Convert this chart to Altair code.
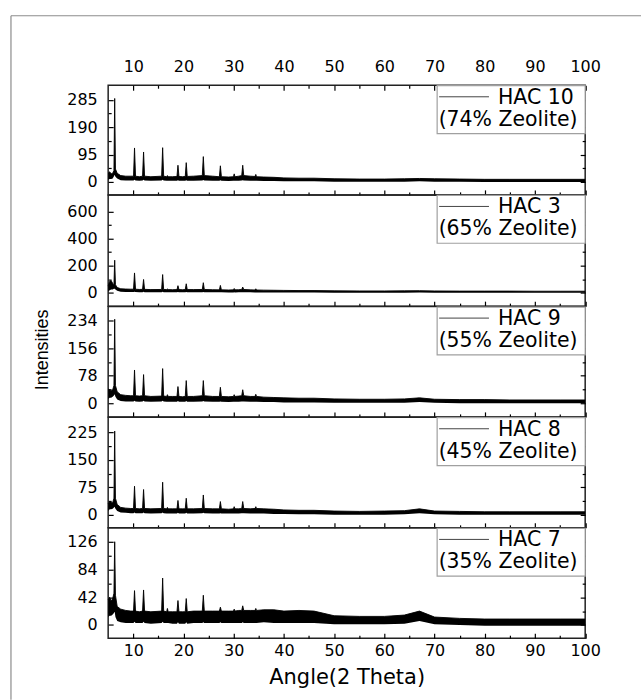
import altair as alt
import pandas as pd

# 2-theta positions (shared by every pattern)
angles = [5.0, 5.3, 5.6, 5.9, 6.15, 6.3, 6.45, 6.8, 7.5, 8.5,
          9.5, 10.05, 10.25, 10.45, 11.2, 11.85, 12.05, 12.25, 13.5, 15.65,
          15.85, 16.05, 16.65, 16.8, 16.95, 17.8, 18.7, 18.9, 19.1, 19.8,
          20.35, 20.55, 20.75, 22.0, 23.75, 23.95, 24.15, 25.8, 27.15, 27.35,
          27.55, 29.0, 29.95, 30.1, 30.25, 31.0, 31.6, 31.8, 32.0, 33.3,
          34.25, 34.4, 34.55, 36.0, 38.0, 40.0, 43.0, 46.0, 50.0, 55.0,
          60.0, 64.0, 67.0, 70.0, 75.0, 80.0, 85.0, 90.0, 95.0, 100.0]

# upper / lower envelope of each noisy pattern
hac10_hi = [30, 35, 28, 30, 40, 290, 45, 30, 22, 20,
            20, 20, 118, 20, 18, 20, 104, 20, 18, 20,
            119, 20, 18, 22, 18, 18, 19, 58, 19, 18,
            19, 67, 19, 20, 22, 88, 22, 20, 18, 56,
            18, 17, 18, 28, 18, 20, 22, 58, 22, 20,
            19, 26, 18, 17, 16, 14, 13, 13, 11, 10,
            10, 11, 12, 11, 10, 9, 9, 9, 9, 9]
hac10_lo = [8, 10, 10, 12, 20, 25, 18, 12, 6, 5,
            5, 5, 8, 5, 4, 5, 8, 5, 4, 5,
            8, 5, 4, 4, 4, 4, 4, 6, 4, 4,
            4, 6, 4, 4, 5, 7, 5, 4, 4, 6,
            4, 3, 4, 4, 4, 4, 5, 6, 5, 4,
            4, 4, 4, 3, 3, 2, 2, 2, 1, 1,
            1, 1, 2, 1, 1, 0, 0, 0, 0, 0]
hac3_hi = [50, 85, 90, 70, 60, 241, 60, 40, 30, 28,
           27, 27, 147, 27, 25, 26, 99, 26, 24, 25,
           135, 25, 24, 28, 24, 23, 24, 53, 24, 23,
           24, 67, 24, 24, 25, 75, 25, 23, 22, 55,
           22, 21, 22, 32, 22, 23, 25, 43, 25, 22,
           21, 30, 21, 20, 19, 18, 17, 17, 15, 14,
           14, 15, 16, 14, 13, 13, 13, 12, 12, 12]
hac3_lo = [10, 20, 25, 25, 30, 30, 25, 15, 8, 6,
           6, 6, 8, 6, 5, 5, 8, 5, 5, 5,
           8, 5, 4, 4, 4, 4, 4, 6, 4, 4,
           4, 6, 4, 4, 5, 6, 5, 4, 4, 5,
           4, 3, 3, 4, 3, 4, 5, 5, 5, 4,
           3, 3, 3, 3, 2, 2, 2, 2, 1, 1,
           1, 1, 2, 1, 0, 0, 0, 0, 0, 0]
hac9_hi = [40, 38, 35, 38, 50, 238, 50, 32, 24, 22,
           21, 21, 94, 21, 20, 21, 81, 21, 19, 20,
           98, 20, 19, 24, 19, 19, 19, 47, 19, 18,
           19, 64, 19, 19, 21, 64, 21, 19, 19, 45,
           19, 18, 19, 24, 19, 20, 21, 38, 21, 19,
           19, 25, 19, 17, 16, 15, 14, 14, 12, 11,
           11, 12, 15, 11, 10, 10, 9, 9, 9, 9]
hac9_lo = [12, 15, 15, 18, 22, 25, 18, 10, 6, 5,
           5, 5, 7, 5, 4, 5, 7, 5, 4, 5,
           7, 5, 4, 4, 4, 4, 4, 6, 4, 4,
           4, 6, 4, 4, 5, 6, 5, 4, 4, 5,
           4, 3, 4, 4, 4, 4, 5, 5, 5, 4,
           4, 4, 4, 3, 3, 2, 2, 2, 1, 1,
           1, 1, 3, 1, 0, 0, 0, 0, 0, 0]
hac8_hi = [30, 36, 34, 33, 45, 229, 45, 28, 20, 18,
           17, 17, 78, 17, 16, 17, 69, 17, 16, 17,
           89, 17, 16, 20, 16, 16, 16, 39, 16, 16,
           16, 45, 16, 16, 17, 54, 17, 16, 16, 36,
           16, 15, 16, 22, 16, 16, 17, 36, 17, 16,
           17, 22, 17, 16, 15, 13, 12, 12, 10, 9,
           10, 11, 16, 10, 9, 8, 8, 8, 8, 8]
hac8_lo = [10, 15, 15, 16, 20, 22, 16, 10, 6, 5,
           4, 4, 6, 4, 4, 4, 6, 4, 3, 4,
           6, 4, 3, 3, 3, 3, 3, 5, 3, 3,
           3, 5, 3, 3, 4, 5, 4, 3, 3, 4,
           3, 3, 3, 3, 3, 3, 4, 4, 4, 3,
           3, 3, 3, 3, 2, 2, 1, 1, 0, 0,
           0, 1, 4, 1, 0, 0, 0, 0, 0, 0]
hac7_hi = [38, 42, 36, 40, 48, 126, 45, 28, 24, 22,
           21, 21, 52, 21, 20, 21, 53, 21, 20, 21,
           71, 21, 20, 25, 20, 20, 20, 37, 20, 20,
           20, 40, 20, 21, 21, 45, 21, 21, 21, 27,
           21, 21, 21, 24, 21, 22, 22, 29, 22, 22,
           22, 25, 22, 23, 23, 21, 22, 21, 14, 13,
           13, 15, 21, 12, 10, 9, 9, 9, 9, 9]
hac7_lo = [12, 14, 14, 16, 18, 20, 12, 6, 4, 3,
           3, 3, 5, 3, 3, 3, 5, 3, 2, 3,
           5, 3, 3, 3, 3, 2, 2, 4, 2, 2,
           2, 4, 2, 3, 3, 4, 3, 3, 3, 4,
           3, 3, 3, 3, 3, 3, 3, 4, 3, 3,
           3, 3, 3, 4, 3, 3, 3, 3, 1, 1,
           1, 2, 6, 1, 0, -1, -1, -1, -1, -1]

names = ["HAC 10", "HAC 3", "HAC 9", "HAC 8", "HAC 7"]
zeolite = ["(74% Zeolite)", "(65% Zeolite)", "(55% Zeolite)", "(45% Zeolite)", "(35% Zeolite)"]
his = [hac10_hi, hac3_hi, hac9_hi, hac8_hi, hac7_hi]
los = [hac10_lo, hac3_lo, hac9_lo, hac8_lo, hac7_lo]
y_domains = [[-45, 336], [-98, 723], [-39, 274], [-36, 267], [-20, 147]]
y_major = [[0, 95, 190, 285], [0, 200, 400, 600], [0, 78, 156, 234], [0, 75, 150, 225], [0, 42, 84, 126]]
y_minor = [[47.5, 142.5, 237.5], [100, 300, 500], [39, 117, 195], [37.5, 112.5, 187.5], [21, 63, 105]]
x_major = [10, 20, 30, 40, 50, 60, 70, 80, 90, 100]
x_minor = [15, 25, 35, 45, 55, 65, 75, 85, 95]
heights = [110, 111.6, 110.7, 111, 110.7]
PLOT_W = 478.5

xsc = alt.Scale(domain=[5, 100], nice=False, zero=False)
xtest = f"indexof({x_major}, datum.value) >= 0"
xtick = {"condition": {"test": xtest, "value": -5}, "value": -3}


def panel(i):
    df = pd.DataFrame({"angle": angles, "hi": his[i], "lo": los[i]})
    base = alt.Chart(df)
    ysc = alt.Scale(domain=y_domains[i], nice=False, zero=False)
    ytest = f"indexof({y_major[i]}, datum.value) >= 0"
    ytick = {"condition": {"test": ytest, "value": -5}, "value": -3}
    bottom = i == 4

    xb_kw = dict(orient="bottom", values=x_major + x_minor, tickSize=xtick,
                 labels=bottom, labelExpr=f"{xtest} ? datum.label : ''",
                 labelFlush=False, labelOverlap=False, labelPadding=9.5,
                 domain=False, grid=False)
    if bottom:
        xb_kw.update(title="Angle(2 Theta)", titlePadding=6)
    else:
        xb_kw.update(title=None)

    yl_kw = dict(orient="left", values=y_major[i] + y_minor[i], tickSize=ytick,
                 labelExpr=f"{ytest} ? datum.label : ''", labelOverlap=False,
                 labelFlush=False, labelPadding=16, domain=False, grid=False)
    if i == 2:
        yl_kw.update(title="Intensities", titleFont="Liberation Sans", titleFontSize=18,
                     titleFontWeight="normal", titlePadding=15, titleY=43)
    else:
        yl_kw.update(title=None)

    area = base.mark_area(color="black", strokeWidth=0).encode(
        x=alt.X("angle:Q", scale=xsc, axis=alt.Axis(**xb_kw)),
        y=alt.Y("hi:Q", scale=ysc, axis=alt.Axis(**yl_kw)),
        y2="lo:Q",
    )
    line = base.mark_line(color="black", strokeWidth=0.9).encode(
        x=alt.X("angle:Q", scale=xsc, axis=None),
        y=alt.Y("hi:Q", scale=ysc, axis=None),
    )
    if i == 0:
        x_top = alt.Axis(orient="top", values=x_major + x_minor, tickSize=xtick,
                         labelExpr=f"{xtest} ? datum.label : ''", labelFlush=False,
                         labelOverlap=False, labelPadding=16, title=None,
                         domain=False, grid=False)
    else:
        x_top = None
    y_right = alt.Axis(orient="right", values=y_major[i] + y_minor[i], tickSize=ytick,
                       labels=False, title=None, domain=False, grid=False)
    axes_layer = base.mark_line(opacity=0).encode(
        x=alt.X("angle:Q", scale=xsc, axis=x_top),
        y=alt.Y("hi:Q", scale=ysc, axis=y_right),
    )

    # legend box drawn in the panel's top-right corner
    leg = alt.Chart(pd.DataFrame({"name": [names[i]], "zeo": [zeolite[i]]}))
    box = leg.mark_rect(fill="white", stroke="#a0a0a0", strokeWidth=1.2).encode(
        x=alt.value(330), x2=alt.value(PLOT_W), y=alt.value(0.5), y2=alt.value(48.5))
    sym = leg.mark_rule(color="#444", strokeWidth=1).encode(
        x=alt.value(332), x2=alt.value(382), y=alt.value(11.6))
    t1 = leg.mark_text(align="left", baseline="alphabetic", font="DejaVu Sans",
                       fontSize=20.5, color="black").encode(
        x=alt.value(391), y=alt.value(18.5), text="name:N")
    t2 = leg.mark_text(align="left", baseline="alphabetic", font="DejaVu Sans",
                       fontSize=20.5, color="black").encode(
        x=alt.value(331.5), y=alt.value(40.5), text="zeo:N")

    layers = [area, line, axes_layer, box, sym, t1, t2]
    if i == 0:
        one = alt.Chart(pd.DataFrame({"k": [0]}))
        frame_left = one.mark_rule(color="#8c8c8c", strokeWidth=1.2).encode(
            x=alt.value(-97.5), y=alt.value(-69.7), y2=alt.value(616.5))
        frame_top = one.mark_rule(color="#8c8c8c", strokeWidth=1.2).encode(
            x=alt.value(-97.5), x2=alt.value(534.5), y=alt.value(-69.7))
        layers += [frame_left, frame_top]
    return alt.layer(*layers).resolve_axis(x="independent", y="independent").properties(
        width=PLOT_W, height=heights[i])


chart = alt.vconcat(*[panel(i) for i in range(5)], spacing=0, bounds="flush").properties(
    padding={"left": 9.5, "top": 12.4, "right": 0, "bottom": 0},
    background="white",
).configure_axis(
    labelFont="DejaVu Sans", labelFontSize=16, labelColor="black",
    tickColor="black", tickWidth=1.2,
    titleFont="DejaVu Sans", titleFontSize=21, titleFontWeight="normal", titleColor="black",
).configure_view(stroke="#222", strokeWidth=1.5)

chart.save("out.html", embed_options={"renderer": "svg", "actions": False})
